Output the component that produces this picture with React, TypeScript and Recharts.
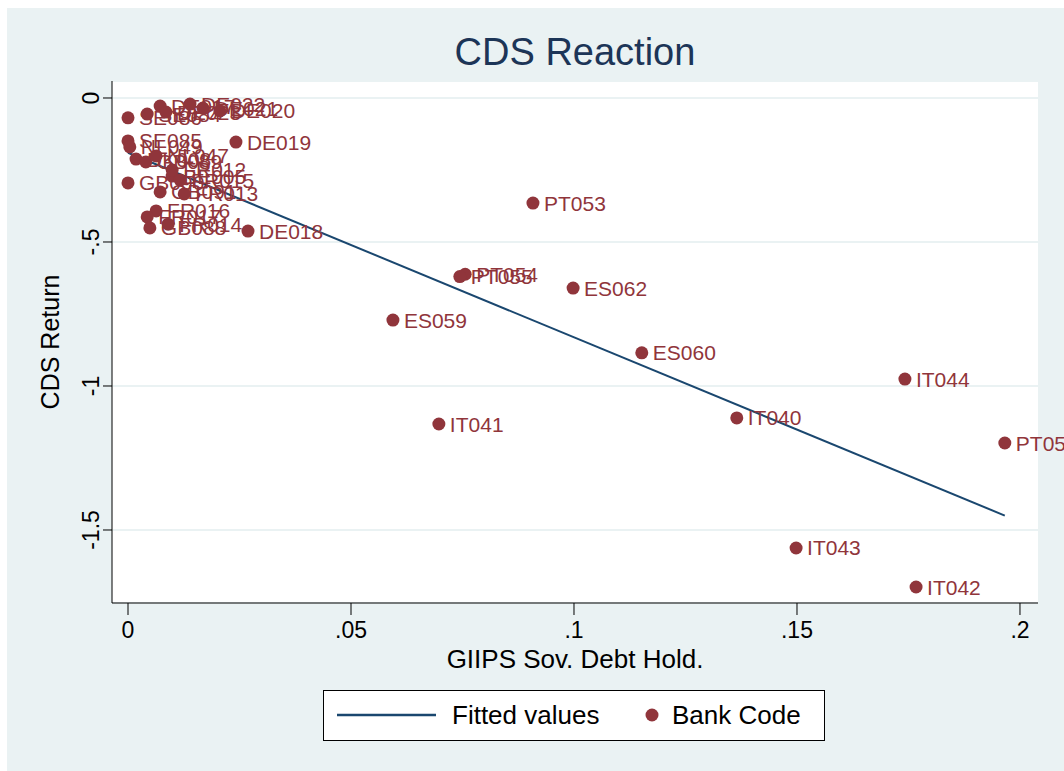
import { CartesianGrid, LabelList, Scatter, ScatterChart, XAxis, YAxis } from "recharts";

const FONT = '"Liberation Sans", Arial, Helvetica, sans-serif';
const MAROON = "#90353b";
const NAVY = "#1a476f";
const BLUISH = "#eaf2f3";

// bank-level points: sovereign debt holdings vs. CDS return
const bankCodes = [
  "SE086", "SE084", "DE017", "DE023", "DE021", "DE022", "DE020", "DE019",
  "SE085", "NL049", "DK008", "GB089", "NL047", "GB090", "BE005", "FR015",
  "FR012", "GB091", "FR013", "FR016", "FR017", "FR014", "GB088", "DE018",
  "PT053", "PT054", "PT055", "ES062", "ES059", "ES060", "IT044", "IT041",
  "IT040", "PT056", "IT043", "IT042",
];
const debtHold = [
  0.0, 0.0043, 0.0072, 0.0085, 0.0168, 0.0139, 0.0206, 0.0242,
  0.0, 0.0004, 0.0018, 0.004, 0.0063, 0.0, 0.0099, 0.0117,
  0.0099, 0.0072, 0.0126, 0.0063, 0.0043, 0.009, 0.0049, 0.0269,
  0.0908, 0.0756, 0.0744, 0.0998, 0.0594, 0.1152, 0.1742, 0.0697,
  0.1365, 0.1966, 0.1498, 0.1767,
];
const cdsReturn = [
  -0.069, -0.056, -0.028, -0.049, -0.035, -0.021, -0.045, -0.153,
  -0.149, -0.17, -0.212, -0.222, -0.201, -0.295, -0.271, -0.285,
  -0.25, -0.326, -0.333, -0.392, -0.413, -0.438, -0.451, -0.462,
  -0.365, -0.612, -0.62, -0.66, -0.771, -0.885, -0.976, -1.132,
  -1.111, -1.198, -1.5625, -1.698,
];

// fitted regression line endpoints
const fittedX = [0, 0.1966];
const fittedY = [-0.19, -1.45];

const xTicks = [0, 0.05, 0.1, 0.15, 0.2];
const yTicks = [0, -0.5, -1, -1.5];

const banks = bankCodes.map((code, i) => ({ code, x: debtHold[i], y: cdsReturn[i] }));
const fitted = fittedX.map((x, i) => ({ x, y: fittedY[i] }));

// Stata style: drop the leading zero (.05, -.5)
const stataNum = (v: number) => (v === 0 ? "0" : String(v).replace("0.", "."));

function YTick(props: any) {
  const { x, y, payload } = props;
  return (
    <text
      x={x}
      y={y}
      transform={`rotate(-90, ${x}, ${y})`}
      textAnchor="middle"
      fontSize={23}
      fill="#000"
      fontFamily={FONT}
    >
      {stataNum(payload.value)}
    </text>
  );
}

function Dot(props: any) {
  return <circle cx={props.cx} cy={props.cy} r={6.5} fill={MAROON} />;
}

function PointLabel(props: any) {
  const vb = props.viewBox || props;
  const cx = vb.x + (vb.width || 0) / 2;
  const cy = vb.y + (vb.height || 0) / 2;
  return (
    <text x={cx + 11} y={cy + 7.5} fontSize={21} fill={MAROON} fontFamily={FONT}>
      {props.value}
    </text>
  );
}

export default function App() {
  return (
    <div style={{ position: "absolute", left: 0, top: 0, width: 1064, height: 771, overflow: "hidden", fontFamily: FONT }}>
      <div style={{ position: "absolute", left: 7, top: 8, right: 0, bottom: 0, background: BLUISH }} />
      <ScatterChart
        width={1064}
        height={771}
        margin={{ top: 81, right: 26, bottom: 108, left: 0 }}
        style={{ position: "absolute", left: 0, top: 0 }}
      >
        <CartesianGrid vertical={false} fill="#fff" stroke={BLUISH} strokeWidth={2} />
        <XAxis
          type="number"
          dataKey="x"
          domain={[-0.00359, 0.20404]}
          ticks={xTicks}
          tickFormatter={stataNum}
          height={60}
          tickSize={12}
          tickMargin={7}
          axisLine={{ stroke: "#000" }}
          tickLine={{ stroke: "#000" }}
          tick={{ fill: "#000", fontSize: 23, fontFamily: FONT }}
          label={{
            value: "GIIPS Sov. Debt Hold.",
            position: "bottom",
            offset: -13,
            fill: "#000",
            fontSize: 26,
            fontFamily: FONT,
          }}
        />
        <YAxis
          type="number"
          dataKey="y"
          domain={[-1.7535, 0.059]}
          ticks={yTicks}
          width={112}
          tickSize={9}
          tickMargin={4}
          axisLine={{ stroke: "#000" }}
          tickLine={{ stroke: "#000" }}
          tick={<YTick />}
          label={{
            value: "CDS Return",
            angle: -90,
            position: "insideLeft",
            offset: 50,
            fill: "#000",
            fontSize: 25,
            fontFamily: FONT,
            style: { textAnchor: "middle" },
          }}
        />
        <Scatter
          name="Fitted values"
          data={fitted}
          line={{ stroke: NAVY, strokeWidth: 2 }}
          shape={() => <g />}
          isAnimationActive={false}
        />
        <Scatter name="Bank Code" data={banks} fill={MAROON} shape={<Dot />} isAnimationActive={false}>
          <LabelList dataKey="code" content={<PointLabel />} />
        </Scatter>
      </ScatterChart>
      <svg width={1064} height={771} style={{ position: "absolute", left: 0, top: 0, pointerEvents: "none" }}>
        <text x={575} y={65} textAnchor="middle" fontSize={38} fill="#1c3557" fontFamily={FONT}>
          CDS Reaction
        </text>
        <rect x={323.5} y={690.5} width={501} height={50} fill="#fff" stroke="#000" strokeWidth={1} />
        <line x1={337} y1={715} x2={436} y2={715} stroke={NAVY} strokeWidth={2.5} />
        <text x={452} y={724} fontSize={26} fill="#000" fontFamily={FONT}>
          Fitted values
        </text>
        <circle cx={652} cy={715} r={6.5} fill={MAROON} />
        <text x={672} y={724} fontSize={26} fill="#000" fontFamily={FONT}>
          Bank Code
        </text>
      </svg>
    </div>
  );
}
